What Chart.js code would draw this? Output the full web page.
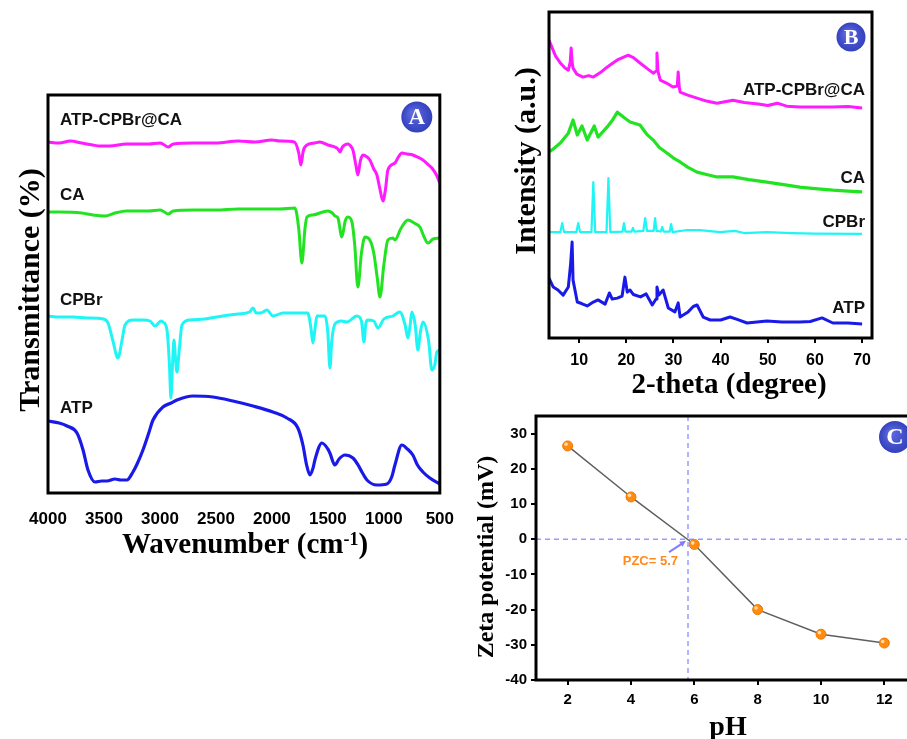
<!DOCTYPE html>
<html lang="en">
<head>
    <meta charset="UTF-8">
    <title>FTIR / XRD / Zeta potential</title>
    <script src="https://cdn.jsdelivr.net/npm/chart.js"></script>
    <style>
        html, body {
            margin: 0;
            padding: 0;
            background: #fff;
            overflow: hidden;
            width: 907px;
            height: 739px;
        }
        canvas {
            position: absolute;
        }
    </style>
</head>
<body>
    <canvas id="ftirChart" width="470" height="580" style="left:0;top:0;width:470px;height:580px"></canvas>
    <canvas id="xrdChart" width="427" height="400" style="left:480px;top:0;width:427px;height:400px"></canvas>
    <canvas id="zetaChart" width="480" height="339" style="left:460px;top:400px;width:480px;height:339px"></canvas>
    <script>
        // ---- panel A: FTIR (wavenumber, offset transmittance a.u.)
        const ftirTicks = [4000, 3500, 3000, 2500, 2000, 1500, 1000, 500];
        const ftirComposite = [[4000,87.75],[3900,87.5],[3800,88],[3700,87.5],[3600,87],[3536,86.75],[3450,86.75],[3300,87.25],[3100,87.25],[3000,87.5],[2960,87],[2928,86.5],[2880,87.25],[2700,87.5],[2500,87.5],[2300,88],[2150,87.75],[2000,88.25],[1928,88],[1800,87.75],[1760,85],[1741,82],[1720,85.5],[1687,87],[1620,87.5],[1571,87.75],[1500,87],[1437,86.5],[1410,86],[1392,85.25],[1370,86.5],[1321,87.25],[1290,86.5],[1276,85.75],[1250,82],[1232,79.5],[1210,83],[1187,84.5],[1150,84],[1125,83.25],[1090,81],[1062,79.5],[1035,76],[1008,73],[985,76],[964,80.75],[901,82.5],[870,84],[839,85],[790,84.75],[741,84.5],[700,84],[651,83.25],[600,82],[571,81.25],[530,79.5],[500,77.5]];
        const ftirCA = [[4000,70.25],[3900,70.25],[3700,70],[3600,69.5],[3491,69.25],[3400,70],[3300,70.5],[3100,70.5],[3000,70.75],[2960,70.25],[2928,69.75],[2880,70.5],[2700,70.75],[2500,70.75],[2300,71],[2100,71],[1928,71],[1794,71.25],[1760,66],[1732,57.5],[1705,66],[1687,69],[1634,69.5],[1500,70.5],[1460,70],[1437,69.25],[1410,68.75],[1375,64],[1345,68],[1321,69],[1285,67.75],[1260,62],[1232,51.5],[1200,60],[1169,64],[1125,63.25],[1090,60],[1060,54],[1035,49],[1000,57],[964,63.25],[919,63.75],[901,63.25],[850,66],[785,68.25],[730,67.5],[678,66.5],[640,64],[607,62.5],[560,63.5],[500,63.75]];
        const ftirCPBr = [[4000,44.25],[3900,44],[3777,44],[3650,43.75],[3509,43.5],[3464,42.5],[3420,38],[3375,33.75],[3340,38],[3312,42],[3241,43.25],[3150,43.25],[3089,43],[3045,41.75],[2990,43],[2973,42.75],[2937,40.75],[2915,32],[2902,23.75],[2888,32],[2875,38.25],[2862,34],[2848,30.25],[2830,35],[2803,42],[2732,43.25],[2600,43.5],[2437,44.25],[2300,44.75],[2200,45.25],[2169,46.25],[2140,45],[2100,45],[2044,45.75],[1991,44.25],[1900,45],[1800,45],[1680,45],[1650,41],[1634,37.5],[1615,41],[1598,44.25],[1526,44.25],[1500,40],[1482,31.25],[1465,38],[1437,42.25],[1380,43],[1330,42.75],[1241,44.25],[1200,43],[1178,37.75],[1160,42.5],[1142,43.25],[1090,43],[1053,41.25],[1000,43.5],[919,44.25],[857,45.25],[810,42],[785,38.75],[765,42],[750,45.25],[720,42],[696,35.75],[675,40],[651,42.75],[600,38],[571,30.75],[545,32],[526,35.25],[500,35.75]];
        const ftirATP = [[4000,18],[3900,17.5],[3830,16.75],[3741,15],[3687,10.75],[3643,5.75],[3580,2.75],[3520,3],[3473,3],[3402,3.5],[3350,3.25],[3295,3.25],[3241,5.25],[3200,7.5],[3152,10.75],[3100,15],[3062,18.25],[2973,21.5],[2900,22.5],[2848,23.25],[2705,24.25],[2527,24],[2348,23],[2169,21.75],[1991,20.25],[1866,18.75],[1768,16.25],[1723,12],[1690,7],[1660,4.5],[1630,6.5],[1616,8.25],[1553,12.5],[1500,11],[1482,10],[1437,7],[1400,8.5],[1348,9.5],[1276,8.75],[1230,7],[1196,5.25],[1151,3.25],[1062,2],[973,2.25],[930,4],[901,7],[839,12],[790,11],[741,9.5],[700,7],[651,5.25],[589,3.75],[500,2.25]];
        const ftirLabels = [['ATP-CPBr@CA', 93.25], ['CA', 74.5], ['CPBr', 48.25], ['ATP', 21.25]];

        // ---- panel B: XRD (2-theta, offset intensity a.u.)
        const xrdTicks = [10, 20, 30, 40, 50, 60, 70];
        const xrdComposite = [[3.6,99.3],[4.2,97],[5,94],[6,91.7],[7,90],[7.7,89.3],[8.1,92],[8.3,96.7],[8.5,92],[8.7,90],[9.5,88],[10.8,87],[12,87.5],[13,87],[14.5,88.5],[15.9,90.3],[17,91.5],[18.1,92.7],[19.2,93.5],[20.4,94.3],[21.5,93.5],[22.9,91.7],[24.3,90],[25.7,88.3],[26.3,89],[26.5,95],[26.7,89],[27.2,86],[28.5,85],[29.9,83.7],[30.8,84],[31.0,88.7],[31.2,84],[31.4,82],[33,81],[35,80],[37,79],[39.2,78.3],[42.6,79.3],[45,78.5],[48,78],[50,77.5],[52,78.3],[54,77.3],[56.8,77],[60,77],[63.8,77],[67,77.2],[70,76.7]];
        const xrdCA = [[3.6,62],[4.5,63],[6,65],[7.7,68.3],[8.7,72.7],[9.6,67.7],[10.6,70.7],[11.7,66],[13.2,70.7],[14,67],[15.9,70.3],[17,72.5],[18.1,75.3],[19.5,73.5],[20.8,72],[22.9,71],[24.3,68],[25.7,66],[27,63.5],[28.6,61.7],[30,60],[31.4,58.7],[33,57],[35,55.3],[37,54.5],[39.2,53.7],[42.6,53.7],[46,52.8],[49.8,52],[53,51.2],[56.8,50.3],[60,49.8],[63.8,49.3],[67,49],[70,48.7]];
        const xrdCPBr = [[3.6,35.3],[6.0,35.3],[6.4,38.3],[6.8,35.3],[9.4,35.3],[9.8,38.3],[10.2,35.3],[12.6,35.3],[13.0,52],[13.4,35.3],[15.8,35.3],[16.2,53.3],[16.6,35.3],[19.2,35.5],[19.5,38.3],[19.8,35.5],[21.1,35.5],[21.4,36.7],[21.7,35.5],[23.6,35.7],[24.0,40],[24.4,35.7],[25.8,35.7],[26.1,40],[26.4,35.7],[27.3,35.5],[27.6,37],[27.9,35.5],[29.2,35.5],[29.5,38],[29.8,35.3],[32.9,36],[35.6,36],[39.9,35.3],[43.0,35.7],[45,35],[49.8,35.3],[55,35],[60,34.8],[70,34.7]];
        const xrdATP = [[3.6,20],[4.5,17],[5.5,16],[6.6,14.3],[7.7,17],[8.2,25],[8.5,32],[8.7,19.3],[9.6,12],[10.5,11.5],[11.7,10.7],[13,12],[14,12.7],[15.5,11.3],[16.4,15],[17,13],[18.1,13.3],[19.1,14],[19.7,20.3],[20.2,15.3],[20.8,16],[21.5,14.5],[23,13.7],[24.2,14.7],[25.5,11],[26.3,13],[26.5,17],[26.9,14.3],[27.8,16],[28.9,10],[30.3,8.7],[31.0,11.7],[31.4,7],[33.1,8.7],[34.2,10.5],[35,11],[36.3,7],[37.8,6],[40,6],[42,7],[43.5,6.2],[45.6,5],[49.8,5.7],[53,5.3],[56.8,5.3],[59,5.5],[61.5,6.7],[63.8,5],[67,5],[70,4.7]];
        const xrdLabels = [['ATP-CPBr@CA', 82.7], ['CA', 53.3], ['CPBr', 38.7], ['ATP', 10]];

        // ---- panel C: zeta potential vs pH
        const phTicks = [2, 4, 6, 8, 10, 12];
        const zetaTicks = [30, 20, 10, 0, -10, -20, -30, -40];
        const ph = [2, 4, 6, 8, 10, 12];
        const zeta = [26.5, 12, -1.5, -20, -27, -29.5];
        const pzcLine = 5.8;
        const pzcText = 'PZC= 5.7';

        const MAGENTA = '#ff1aff', GREEN = '#22e322', CYAN = '#1ff5f5', BLUE = '#1a1ae8';
        const SANS = '"Liberation Sans", Arial, sans-serif';
        const SERIF = '"Liberation Serif", "Times New Roman", serif';

        const toXY = arr => arr.map(([x, y]) => ({ x, y }));

        function lineSet(data, color, width, mono) {
            return {
                data: toXY(data),
                borderColor: color,
                borderWidth: width,
                borderJoinStyle: 'round',
                pointRadius: 0,
                tension: 0,
                cubicInterpolationMode: mono ? 'monotone' : 'default',
                fill: false
            };
        }

        function frame(ctx, a) {
            ctx.save();
            ctx.lineWidth = 3;
            ctx.strokeStyle = '#000';
            ctx.strokeRect(a.left, a.top, a.right - a.left, a.bottom - a.top);
            ctx.restore();
        }

        function badge(ctx, cx, cy, r, letter) {
            ctx.save();
            const g = ctx.createRadialGradient(cx - r * 0.3, cy - r * 0.3, 1, cx, cy, r);
            g.addColorStop(0, '#5e6ae0');
            g.addColorStop(1, '#3441bd');
            ctx.fillStyle = g;
            ctx.beginPath();
            ctx.arc(cx, cy, r, 0, Math.PI * 2);
            ctx.fill();
            ctx.fillStyle = '#fff';
            ctx.font = 'bold ' + Math.round(r * 1.5) + 'px ' + SERIF;
            ctx.textAlign = 'center';
            ctx.textBaseline = 'middle';
            ctx.fillText(letter, cx, cy + 1);
            ctx.restore();
        }

        function vTitle(ctx, text, x, y, size) {
            ctx.save();
            ctx.translate(x, y);
            ctx.rotate(-Math.PI / 2);
            ctx.font = 'bold ' + size + 'px ' + SERIF;
            ctx.fillStyle = '#000';
            ctx.textAlign = 'center';
            ctx.textBaseline = 'alphabetic';
            ctx.fillText(text, 0, 0);
            ctx.restore();
        }

        function hTitle(ctx, text, x, y, size) {
            ctx.save();
            ctx.font = 'bold ' + size + 'px ' + SERIF;
            ctx.fillStyle = '#000';
            ctx.textAlign = 'center';
            ctx.textBaseline = 'alphabetic';
            ctx.fillText(text, x, y);
            ctx.restore();
        }

        const fixedTicks = arr => scale => { scale.ticks = arr.map(v => ({ value: v })); };

        // ---------------- Panel A
        const panelA = {
            id: 'panelA',
            afterDraw(chart) {
                const { ctx, chartArea: a, scales: { y } } = chart;
                frame(ctx, a);
                ctx.save();
                ctx.fillStyle = '#111';
                ctx.font = 'bold 17px ' + SANS;
                ctx.textAlign = 'left';
                ctx.textBaseline = 'middle';
                ftirLabels.forEach(([t, v]) => ctx.fillText(t, a.left + 12, y.getPixelForValue(v)));
                ctx.restore();
                badge(ctx, a.right - 23, a.top + 22, 15.5, 'A');
                vTitle(ctx, 'Transmittance (%)', 39, 290, 30);

                // x title with superscript
                ctx.save();
                ctx.fillStyle = '#000';
                ctx.textBaseline = 'alphabetic';
                const main = 'Wavenumber (cm', sup = '-1', close = ')';
                ctx.font = 'bold 29px ' + SERIF;
                const w1 = ctx.measureText(main).width, w3 = ctx.measureText(close).width;
                ctx.font = 'bold 18px ' + SERIF;
                const w2 = ctx.measureText(sup).width;
                let x0 = 245 - (w1 + w2 + w3) / 2;
                ctx.font = 'bold 29px ' + SERIF;
                ctx.fillText(main, x0, 553);
                ctx.font = 'bold 18px ' + SERIF;
                ctx.fillText(sup, x0 + w1, 545);
                ctx.font = 'bold 29px ' + SERIF;
                ctx.fillText(close, x0 + w1 + w2, 553);
                ctx.restore();
            }
        };

        new Chart(document.getElementById('ftirChart'), {
            type: 'line',
            data: {
                datasets: [
                    lineSet(ftirComposite, MAGENTA, 3, true),
                    lineSet(ftirCA, GREEN, 3, true),
                    lineSet(ftirCPBr, CYAN, 3, true),
                    lineSet(ftirATP, BLUE, 3.2, true)
                ]
            },
            options: {
                responsive: false,
                animation: false,
                layout: { padding: { left: 48, top: 95, right: 30, bottom: 0 } },
                plugins: { legend: { display: false }, tooltip: { enabled: false } },
                scales: {
                    x: {
                        type: 'linear',
                        reverse: true,
                        min: 500,
                        max: 4000,
                        afterBuildTicks: fixedTicks(ftirTicks),
                        afterFit: s => { s.height = 87; },
                        grid: { display: false, drawTicks: false },
                        border: { display: false },
                        ticks: {
                            color: '#000',
                            font: { family: SANS, size: 17, weight: 'bold' },
                            padding: 16,
                            maxRotation: 0,
                            autoSkip: false,
                            callback: v => String(v)
                        }
                    },
                    y: { display: false, min: 0, max: 99.5 }
                }
            },
            plugins: [panelA]
        });

        // ---------------- Panel B
        const panelB = {
            id: 'panelB',
            afterDraw(chart) {
                const { ctx, chartArea: a, scales: { y } } = chart;
                frame(ctx, a);
                ctx.save();
                ctx.fillStyle = '#111';
                ctx.font = 'bold 17px ' + SANS;
                ctx.textAlign = 'right';
                ctx.textBaseline = 'middle';
                xrdLabels.forEach(([t, v]) => ctx.fillText(t, a.right - 7, y.getPixelForValue(v)));
                ctx.restore();
                badge(ctx, a.right - 21, a.top + 25, 14.5, 'B');
                vTitle(ctx, 'Intensity (a.u.)', 55, 161, 30);
                hTitle(ctx, '2-theta (degree)', 249, 393, 29);
            }
        };

        new Chart(document.getElementById('xrdChart'), {
            type: 'line',
            data: {
                datasets: [
                    lineSet(xrdComposite, MAGENTA, 3, false),
                    lineSet(xrdCA, GREEN, 3.2, false),
                    lineSet(xrdCPBr, CYAN, 2.2, false),
                    lineSet(xrdATP, BLUE, 3, false)
                ]
            },
            options: {
                responsive: false,
                animation: false,
                layout: { padding: { left: 69, top: 12, right: 35, bottom: 0 } },
                plugins: { legend: { display: false }, tooltip: { enabled: false } },
                scales: {
                    x: {
                        type: 'linear',
                        min: 3.6,
                        max: 72.1,
                        afterBuildTicks: fixedTicks(xrdTicks),
                        afterFit: s => { s.height = 62; },
                        grid: { drawOnChartArea: false, drawTicks: true, tickLength: 5, color: '#000', lineWidth: 2 },
                        border: { display: false },
                        ticks: {
                            color: '#000',
                            font: { family: SANS, size: 16, weight: 'bold' },
                            padding: 8,
                            maxRotation: 0,
                            autoSkip: false,
                            callback: v => String(v)
                        }
                    },
                    y: { display: false, min: 0, max: 108.7 }
                }
            },
            plugins: [panelB]
        });

        // ---------------- Panel C
        const panelC = {
            id: 'panelC',
            beforeDatasetsDraw(chart) {
                const { ctx, chartArea: a, scales: { x, y } } = chart;
                const px = x.getPixelForValue(pzcLine), py = y.getPixelForValue(0);
                ctx.save();
                ctx.strokeStyle = '#9a9aff';
                ctx.lineWidth = 1.5;
                ctx.setLineDash([5, 4]);
                ctx.beginPath();
                ctx.moveTo(px, a.top);
                ctx.lineTo(px, a.bottom);
                ctx.moveTo(a.left, py);
                ctx.lineTo(a.right, py);
                ctx.stroke();
                ctx.restore();
            },
            afterDatasetsDraw(chart) {
                const { ctx } = chart;
                const meta = chart.getDatasetMeta(0);
                ctx.save();
                meta.data.forEach(pt => {
                    ctx.fillStyle = 'rgba(255,235,200,0.85)';
                    ctx.beginPath();
                    ctx.arc(pt.x - 1.6, pt.y - 1.6, 1.8, 0, Math.PI * 2);
                    ctx.fill();
                });
                ctx.restore();
            },
            afterDraw(chart) {
                const { ctx, chartArea: a, scales: { x, y } } = chart;
                frame(ctx, a);
                const px = x.getPixelForValue(pzcLine), py = y.getPixelForValue(0);
                ctx.save();
                // arrow
                ctx.strokeStyle = '#7f7fff';
                ctx.fillStyle = '#7f7fff';
                ctx.lineWidth = 2;
                const tx = px - 19, ty = py + 13, hx = px - 2, hy = py + 1.5;
                ctx.beginPath();
                ctx.moveTo(tx, ty);
                ctx.lineTo(hx - 4, hy + 3);
                ctx.stroke();
                const ang = Math.atan2(hy - ty, hx - tx);
                ctx.beginPath();
                ctx.moveTo(hx, hy);
                ctx.lineTo(hx - 7 * Math.cos(ang - 0.45), hy - 7 * Math.sin(ang - 0.45));
                ctx.lineTo(hx - 7 * Math.cos(ang + 0.45), hy - 7 * Math.sin(ang + 0.45));
                ctx.closePath();
                ctx.fill();
                // label
                ctx.fillStyle = '#ff8a1c';
                ctx.font = 'bold 13px ' + SANS;
                ctx.textAlign = 'right';
                ctx.textBaseline = 'middle';
                ctx.fillText(pzcText, px - 10, py + 22);
                ctx.restore();
                badge(ctx, a.right - 21, a.top + 21, 16, 'C');
                vTitle(ctx, 'Zeta potential (mV)', 33, 157, 24);
                hTitle(ctx, 'pH', 268, 335, 28);
            }
        };

        new Chart(document.getElementById('zetaChart'), {
            type: 'line',
            data: {
                datasets: [{
                    data: ph.map((v, i) => ({ x: v, y: zeta[i] })),
                    borderColor: '#5f5f5f',
                    borderWidth: 1.5,
                    tension: 0,
                    pointRadius: 5,
                    pointBackgroundColor: '#ff8c10',
                    pointBorderColor: '#f07800',
                    pointBorderWidth: 1
                }]
            },
            options: {
                responsive: false,
                animation: false,
                layout: { padding: { left: 0, top: 16, right: 24, bottom: 0 } },
                plugins: { legend: { display: false }, tooltip: { enabled: false } },
                scales: {
                    x: {
                        type: 'linear',
                        min: 1,
                        max: 13,
                        afterBuildTicks: fixedTicks(phTicks),
                        afterFit: s => { s.height = 59; },
                        grid: { drawOnChartArea: false, drawTicks: true, tickLength: 5, color: '#000', lineWidth: 2 },
                        border: { display: false },
                        ticks: {
                            color: '#000',
                            font: { family: SANS, size: 15, weight: 'bold' },
                            padding: 6,
                            maxRotation: 0,
                            autoSkip: false,
                            callback: v => String(v)
                        }
                    },
                    y: {
                        type: 'linear',
                        min: -40,
                        max: 35,
                        afterBuildTicks: fixedTicks(zetaTicks),
                        afterFit: s => { s.width = 76; },
                        grid: { drawOnChartArea: false, drawTicks: true, tickLength: 5, color: '#000', lineWidth: 2 },
                        border: { display: false },
                        ticks: {
                            color: '#000',
                            font: { family: SANS, size: 15, weight: 'bold' },
                            padding: 4,
                            autoSkip: false,
                            callback: v => String(v)
                        }
                    }
                }
            },
            plugins: [panelC]
        });
    </script>
</body>
</html>
